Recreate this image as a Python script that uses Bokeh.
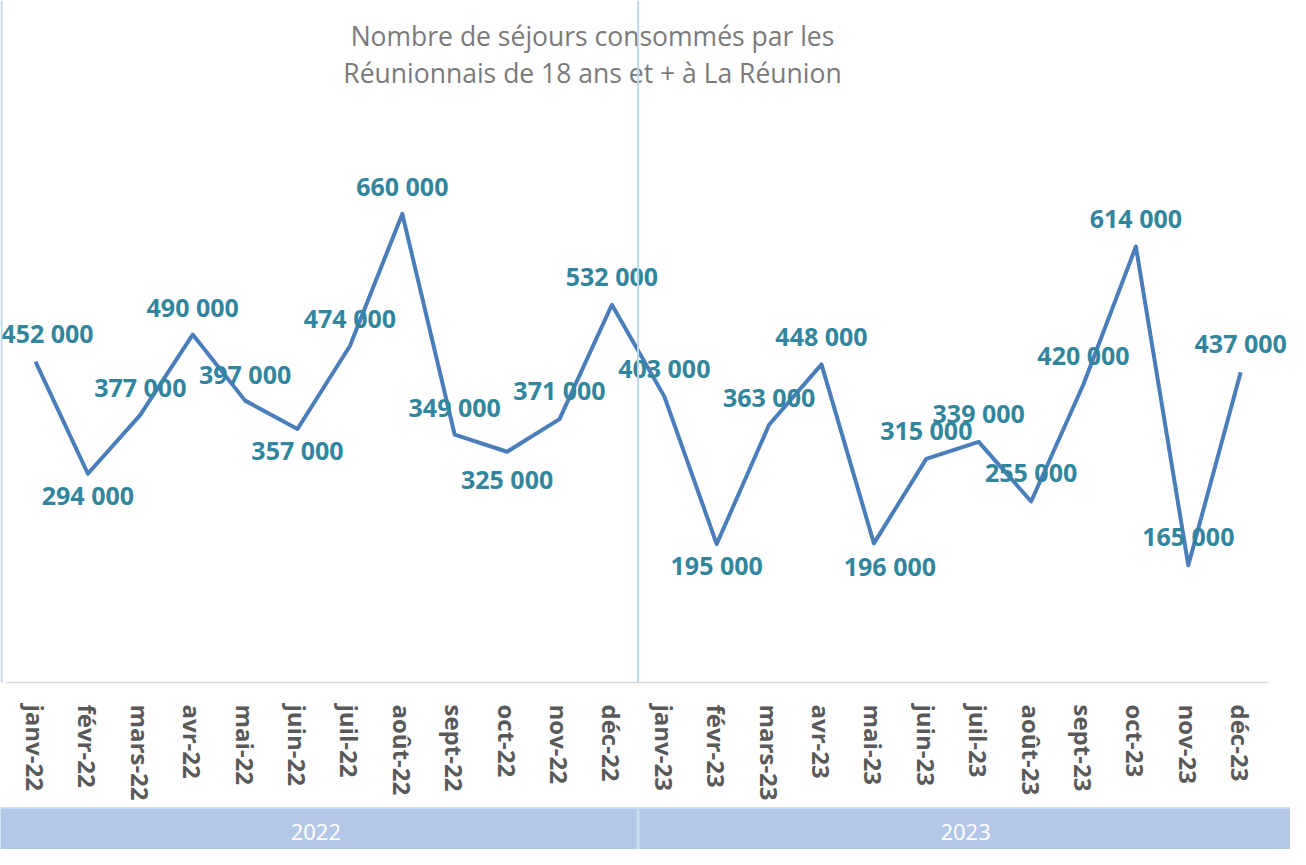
from bokeh.plotting import figure
from bokeh.models import ColumnDataSource, Range1d, FixedTicker, Span, BoxAnnotation
from bokeh.layouts import column
from bokeh.core.properties import value
from bokeh.embed import file_html
from bokeh.resources import INLINE

# ---------------- data ----------------
months = ["janv-22", "févr-22", "mars-22", "avr-22", "mai-22", "juin-22",
          "juil-22", "août-22", "sept-22", "oct-22", "nov-22", "déc-22",
          "janv-23", "févr-23", "mars-23", "avr-23", "mai-23", "juin-23",
          "juil-23", "août-23", "sept-23", "oct-23", "nov-23", "déc-23"]
sejours = [452000, 294000, 377000, 490000, 397000, 357000,
           474000, 660000, 349000, 325000, 371000, 532000,
           403000, 195000, 363000, 448000, 196000, 315000,
           339000, 255000, 420000, 614000, 165000, 437000]
years = ["2022", "2023"]
title_lines = ["Nombre de séjours consommés par les",
               "Réunionnais de 18 ans et + à La Réunion"]

# ---------------- label placement (style, screen px) ----------------
label_dx = [12, 0, 0, 0, 0, 0, 0, 0, 0, 0, 0, 0,
            0, 0, 0, 0, 16, 0, 0, 0, 0, 0, 0, 0]
label_dy = [-29, 21, -28, -28, -27, 21, -28, -28, -28, 27, -29, -29,
            -28, 21, -28, -28, 23, -29, -29, -29, -29, -29, -29, -29]

# ---------------- geometry ----------------
W = 1290
HA = 807
HB = 42
PX = 52.4          # px per category
X0 = 35            # px of first category from left of figure
FRAME_H = 682
Y_SCALE = 0.00071  # px per unit
x_start = -X0 / PX
x_end = x_start + W / PX
Y_TOP = FRAME_H / Y_SCALE
SEP = 11.5
BORDER = "#bdd7ee"

xr = Range1d(x_start, x_end)
yr = Range1d(0, Y_TOP)

idx = list(range(len(months)))
labels = [f"{v:,}".replace(",", " ") for v in sejours]
src = ColumnDataSource(dict(x=idx, y=sejours, label=labels, dx=label_dx, dy=label_dy))

p = figure(width=W, height=HA, x_range=xr, y_range=yr,
           output_backend="svg", toolbar_location=None,
           min_border_left=0, min_border_right=0, min_border_top=0,
           min_border_bottom=HA - FRAME_H,
           y_axis_location=None, outline_line_color=None,
           background_fill_color="white", border_fill_color="white")
p.grid.visible = False

ax = p.xaxis[0]
ax.ticker = FixedTicker(ticks=idx)
ax.major_label_overrides = {i: m for i, m in zip(idx, months)}
ax.major_label_orientation = "vertical"
ax.major_label_text_font = "Open Sans"
ax.major_label_text_font_style = "bold"
ax.major_label_text_font_size = "24px"
ax.major_label_text_color = "#595959"
ax.major_label_standoff = 16
ax.major_tick_line_color = None
ax.minor_tick_line_color = None
ax.axis_line_color = "#d9d9d9"
ax.axis_line_width = 1.5
ax.bounds = (-0.55, 23.51)

# separator between the two years, and frame borders
p.add_layout(Span(location=SEP, dimension="height", line_color=BORDER, line_width=2))
p.add_layout(BoxAnnotation(left=0, right=2, bottom=0, top=HA,
                           left_units="canvas", right_units="canvas",
                           bottom_units="canvas", top_units="canvas",
                           fill_color=BORDER, fill_alpha=1.0, line_color=None))
p.add_layout(BoxAnnotation(left=x_start, right=SEP, bottom=HA - 2, top=HA,
                           bottom_units="canvas", top_units="canvas",
                           fill_color=BORDER, fill_alpha=1.0, line_color=None))

p.line("x", "y", source=src, line_color="#4a7ebb", line_width=4, line_join="round")
p.text("x", "y", text="label", source=src, x_offset="dx", y_offset="dy",
       text_font=value("Open Sans"), text_font_style="bold", text_font_size="25px",
       text_color="#31859c", text_align="center", text_baseline="middle")

TITLE_X = 10.63
p.text(x=[TITLE_X, TITLE_X], y=[Y_TOP, Y_TOP], text=title_lines, y_offset=[35, 72],
       text_font=value("Open Sans"), text_font_size="26.5px", text_color="#7a7a7a",
       text_align="center", text_baseline="middle")

# ---------------- year band ----------------
YEAR_X = [5.35, 17.75]
pb = figure(width=W, height=HB, x_range=xr, y_range=Range1d(0, 1),
            output_backend="svg", toolbar_location=None,
            min_border=0, min_border_left=0, min_border_right=0,
            min_border_top=0, min_border_bottom=0,
            x_axis_location=None, y_axis_location=None, outline_line_color=None,
            background_fill_color="#b4c7e7", border_fill_color="#b4c7e7")
pb.grid.visible = False
pb.add_layout(Span(location=SEP, dimension="height", line_color="#c9daf1", line_width=3))
pb.add_layout(Span(location=1, dimension="width", line_color="#c9daf1", line_width=3))
pb.text(x=YEAR_X, y=[0.42, 0.42], text=years,
        text_font=value("Open Sans"), text_font_size="22px", text_color="white",
        text_align="center", text_baseline="middle")

layout = column(p, pb, spacing=0)
open("out.html", "w").write(file_html(layout, INLINE))
